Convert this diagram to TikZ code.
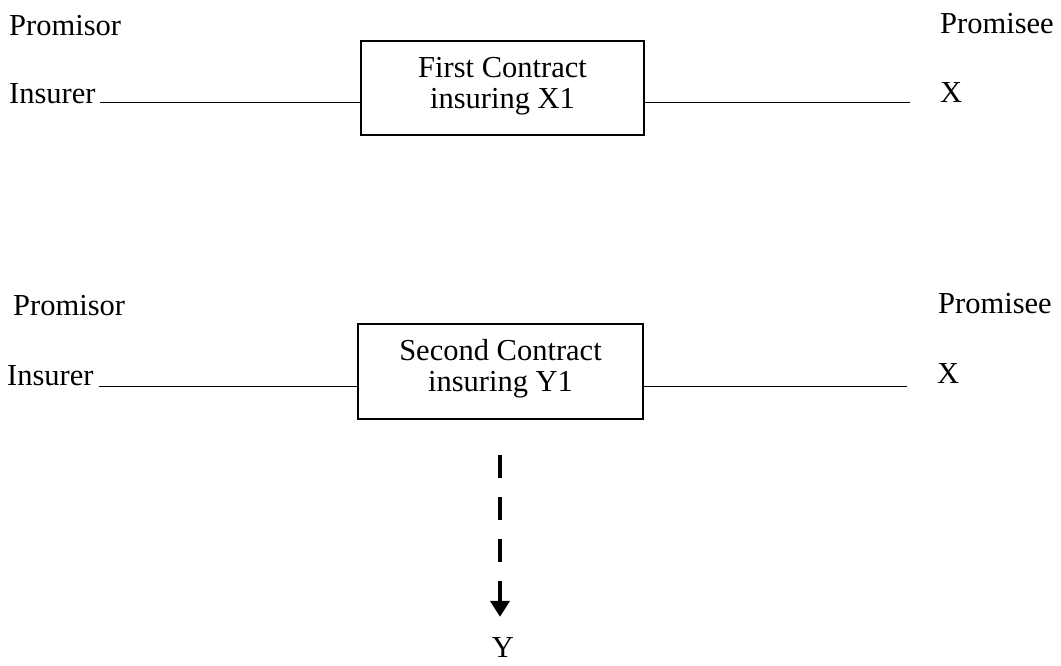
\documentclass[tikz,border=0pt]{standalone}
\usepackage{fontspec}
\setmainfont{Liberation Serif}
\usetikzlibrary{arrows.meta}
\begin{document}
\begin{tikzpicture}[x=1pt, y=-1pt,
  every node/.style={font=\fontsize{30.5}{31}\selectfont, inner sep=0pt},
  lbl/.style={anchor=base west},
  contract/.style={draw, line width=1.8pt, align=center},
  tie/.style={line width=1.8pt},
  flow/.style={line width=4pt, dash pattern=on 23pt off 19pt,
    -{Triangle[width=19pt, length=16pt]}}]
  \useasboundingbox (0,0) rectangle (1061,665);

  % first contract
  \node[lbl] (por1) at (9,35) {Promisor};
  \node[lbl] (pee1) at (940,33) {Promisee};
  \node[lbl] (ins1) at (9,103) {Insurer};
  \node[lbl] (x1) at (940,102) {X};
  \node[contract, minimum width=283pt, minimum height=94pt] (c1) at (502.5,88) {};
  \node[anchor=base] (t1a) at (502.5,77) {First Contract};
  \node[anchor=base] (t1b) at (502.5,108) {insuring X1};
  \coordinate (a1) at (100,102.5);
  \coordinate (b1) at (910,102.5);
  \draw[tie] (a1) -- (a1 -| c1.west);
  \draw[tie] (b1 -| c1.east) -- (b1);

  % second contract
  \node[lbl] (por2) at (13,315) {Promisor};
  \node[lbl] (pee2) at (938,313) {Promisee};
  \node[lbl] (ins2) at (7,385) {Insurer};
  \node[lbl] (x2) at (937,383) {X};
  \node[contract, minimum width=285pt, minimum height=95pt] (c2) at (500.5,371.5) {};
  \node[anchor=base] (t2a) at (500.5,360) {Second Contract};
  \node[anchor=base] (t2b) at (500.5,391) {insuring Y1};
  \coordinate (a2) at (99,386.5);
  \coordinate (b2) at (907,386.5);
  \draw[tie] (a2) -- (a2 -| c2.west);
  \draw[tie] (b2 -| c2.east) -- (b2);

  % passing on to Y
  \node[anchor=base] (y) at (503,657) {Y};
  \coordinate (s) at (500,455);
  \draw[flow] (s) -- ([yshift=20pt]y.north -| s);
\end{tikzpicture}
\end{document}
